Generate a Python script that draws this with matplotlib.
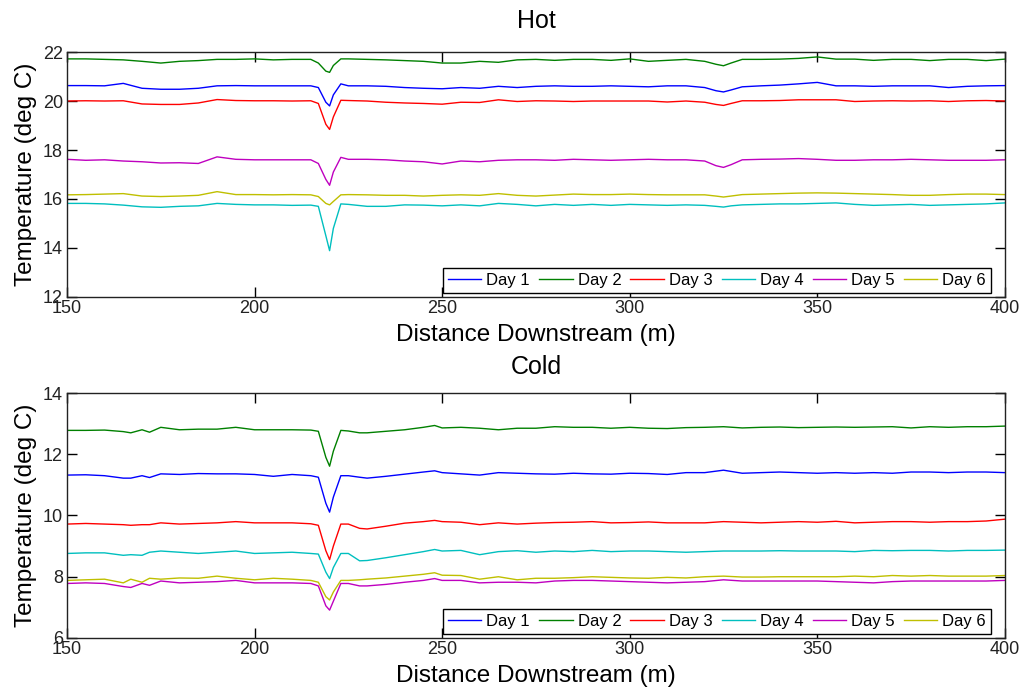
import matplotlib
matplotlib.use("Agg")
import matplotlib.pyplot as plt

plt.rcParams['font.family'] = ['Liberation Sans', 'DejaVu Sans']

days = ["Day 1", "Day 2", "Day 3", "Day 4", "Day 5", "Day 6"]
colors = [(0, 0, 1), (0, 0.5, 0), (1, 0, 0), (0, 0.75, 0.75), (0.75, 0, 0.75), (0.75, 0.75, 0)]

# ---------------- Hot ----------------
x_hot = [150, 155, 160, 165, 170, 175, 180, 185, 190, 195, 200, 205, 210, 215,
         217, 219, 220, 221, 223,
         225, 230, 235, 240, 245, 250, 255, 260, 265, 270, 275, 280, 285, 290, 295,
         300, 305, 310, 315, 320,
         323, 325, 327,
         330, 335, 340, 345, 350, 355, 360, 365, 370, 375, 380, 385, 390, 395, 400]

hot_day1 = [20.63, 20.63, 20.62, 20.72, 20.52, 20.48, 20.48, 20.52, 20.62, 20.63, 20.62, 20.62, 20.62, 20.62,
            20.55, 19.95, 19.80, 20.25, 20.70,
            20.62, 20.62, 20.60, 20.55, 20.52, 20.50, 20.55, 20.52, 20.60, 20.55, 20.60, 20.62, 20.60, 20.60, 20.62,
            20.60, 20.58, 20.62, 20.62, 20.55,
            20.42, 20.37, 20.45,
            20.58, 20.62, 20.65, 20.70, 20.76, 20.62, 20.62, 20.60, 20.62, 20.62, 20.62, 20.55, 20.60, 20.62, 20.63]
hot_day2 = [21.72, 21.72, 21.70, 21.68, 21.62, 21.55, 21.62, 21.65, 21.70, 21.70, 21.72, 21.68, 21.70, 21.70,
            21.55, 21.22, 21.17, 21.45, 21.72,
            21.72, 21.70, 21.68, 21.65, 21.62, 21.55, 21.55, 21.62, 21.58, 21.68, 21.70, 21.66, 21.70, 21.70, 21.66,
            21.72, 21.62, 21.66, 21.70, 21.62,
            21.50, 21.44, 21.55,
            21.70, 21.70, 21.71, 21.74, 21.80, 21.71, 21.71, 21.66, 21.70, 21.70, 21.65, 21.70, 21.70, 21.65, 21.71]
hot_day3 = [20.00, 20.01, 20.00, 20.01, 19.88, 19.86, 19.86, 19.92, 20.06, 20.02, 20.01, 20.01, 20.00, 20.01,
            19.90, 19.05, 18.84, 19.35, 20.03,
            20.02, 20.00, 19.95, 19.92, 19.90, 19.87, 19.95, 19.94, 20.05, 19.98, 20.01, 20.00, 19.98, 20.00, 20.00,
            20.00, 20.00, 19.96, 20.00, 19.95,
            19.86, 19.82, 19.90,
            20.01, 20.01, 20.02, 20.05, 20.05, 20.05, 19.98, 20.00, 20.01, 20.00, 20.01, 19.98, 20.01, 20.02, 20.00]
hot_day4 = [15.82, 15.82, 15.80, 15.75, 15.68, 15.66, 15.70, 15.72, 15.82, 15.78, 15.76, 15.76, 15.74, 15.75,
            15.70, 14.50, 13.89, 14.80, 15.80,
            15.78, 15.70, 15.70, 15.76, 15.75, 15.72, 15.76, 15.72, 15.82, 15.78, 15.72, 15.78, 15.74, 15.78, 15.74,
            15.78, 15.76, 15.74, 15.76, 15.74,
            15.70, 15.67, 15.72,
            15.76, 15.78, 15.80, 15.80, 15.82, 15.84, 15.78, 15.74, 15.76, 15.78, 15.74, 15.76, 15.78, 15.80, 15.84]
hot_day5 = [17.62, 17.58, 17.60, 17.55, 17.52, 17.47, 17.48, 17.45, 17.72, 17.62, 17.60, 17.60, 17.60, 17.60,
            17.45, 16.80, 16.56, 17.10, 17.70,
            17.62, 17.62, 17.60, 17.55, 17.52, 17.43, 17.55, 17.52, 17.58, 17.60, 17.60, 17.58, 17.62, 17.60, 17.58,
            17.60, 17.62, 17.60, 17.60, 17.55,
            17.36, 17.29, 17.40,
            17.60, 17.62, 17.63, 17.65, 17.62, 17.58, 17.58, 17.60, 17.60, 17.62, 17.60, 17.58, 17.58, 17.58, 17.60]
hot_day6 = [16.17, 16.18, 16.20, 16.22, 16.12, 16.10, 16.12, 16.15, 16.30, 16.18, 16.18, 16.17, 16.18, 16.17,
            16.10, 15.82, 15.76, 15.90, 16.17,
            16.18, 16.17, 16.15, 16.15, 16.12, 16.15, 16.17, 16.15, 16.22, 16.15, 16.12, 16.16, 16.20, 16.18, 16.18,
            16.20, 16.18, 16.17, 16.17, 16.17,
            16.12, 16.08, 16.12,
            16.18, 16.20, 16.22, 16.24, 16.25, 16.24, 16.22, 16.20, 16.18, 16.15, 16.15, 16.18, 16.20, 16.20, 16.18]

# ---------------- Cold ----------------
x_cold = [150, 155, 160, 165, 167, 170, 172, 175, 180, 185, 190, 195, 200, 205, 210, 215,
          217, 219, 220, 221, 223,
          225, 228, 230, 235, 240, 245, 248, 250, 255, 260, 265, 270, 275,
          280, 285, 290, 295, 300, 305, 310, 315, 320, 325, 330, 335, 340, 345, 350,
          355, 360, 365, 370, 375, 380, 385, 390, 395, 400]

cold_day1 = [11.32, 11.33, 11.30, 11.22, 11.22, 11.30, 11.24, 11.36, 11.34, 11.37, 11.36, 11.36, 11.34, 11.28, 11.34, 11.30,
             11.25, 10.40, 10.11, 10.60, 11.30,
             11.30, 11.25, 11.22, 11.28, 11.35, 11.42, 11.46, 11.40, 11.36, 11.32, 11.40, 11.38, 11.36,
             11.35, 11.38, 11.36, 11.35, 11.38, 11.37, 11.34, 11.40, 11.40, 11.48, 11.38, 11.40, 11.42, 11.40, 11.38,
             11.40, 11.38, 11.40, 11.38, 11.42, 11.42, 11.40, 11.42, 11.42, 11.40]
cold_day2 = [12.78, 12.78, 12.79, 12.74, 12.70, 12.80, 12.72, 12.88, 12.80, 12.82, 12.82, 12.88, 12.80, 12.80, 12.80, 12.79,
             12.75, 11.90, 11.61, 12.10, 12.78,
             12.76, 12.70, 12.70, 12.75, 12.80, 12.88, 12.94, 12.86, 12.88, 12.85, 12.80, 12.85, 12.85,
             12.90, 12.88, 12.88, 12.85, 12.88, 12.85, 12.84, 12.87, 12.88, 12.90, 12.86, 12.88, 12.89, 12.87, 12.88,
             12.89, 12.88, 12.89, 12.90, 12.86, 12.90, 12.88, 12.90, 12.90, 12.92]
cold_day3 = [9.72, 9.74, 9.72, 9.70, 9.68, 9.70, 9.70, 9.76, 9.72, 9.74, 9.76, 9.80, 9.76, 9.76, 9.76, 9.73,
             9.68, 8.85, 8.56, 9.00, 9.72,
             9.72, 9.58, 9.56, 9.65, 9.75, 9.80, 9.84, 9.80, 9.78, 9.70, 9.76, 9.72, 9.75,
             9.77, 9.78, 9.80, 9.76, 9.77, 9.79, 9.76, 9.76, 9.76, 9.80, 9.78, 9.76, 9.78, 9.80, 9.78,
             9.81, 9.76, 9.78, 9.80, 9.80, 9.78, 9.80, 9.80, 9.82, 9.88]
cold_day4 = [8.76, 8.78, 8.78, 8.70, 8.72, 8.70, 8.80, 8.84, 8.80, 8.76, 8.80, 8.84, 8.76, 8.78, 8.80, 8.76,
             8.74, 8.15, 7.94, 8.30, 8.76,
             8.76, 8.52, 8.53, 8.62, 8.72, 8.82, 8.89, 8.84, 8.86, 8.72, 8.82, 8.85, 8.80,
             8.84, 8.82, 8.86, 8.82, 8.84, 8.84, 8.82, 8.80, 8.82, 8.84, 8.84, 8.84, 8.85, 8.84, 8.84,
             8.84, 8.82, 8.86, 8.85, 8.86, 8.86, 8.84, 8.86, 8.86, 8.87]
cold_day5 = [7.78, 7.80, 7.78, 7.68, 7.65, 7.78, 7.72, 7.86, 7.80, 7.82, 7.84, 7.88, 7.80, 7.80, 7.80, 7.78,
             7.70, 7.05, 6.91, 7.20, 7.78,
             7.78, 7.70, 7.70, 7.75, 7.82, 7.88, 7.94, 7.88, 7.88, 7.80, 7.82, 7.82, 7.80,
             7.86, 7.88, 7.88, 7.86, 7.84, 7.82, 7.80, 7.82, 7.84, 7.90, 7.86, 7.86, 7.86, 7.86, 7.86,
             7.84, 7.82, 7.80, 7.84, 7.86, 7.86, 7.86, 7.86, 7.86, 7.88]
cold_day6 = [7.88, 7.90, 7.92, 7.80, 7.92, 7.82, 7.95, 7.92, 7.96, 7.95, 8.02, 7.95, 7.90, 7.95, 7.92, 7.88,
             7.82, 7.35, 7.24, 7.50, 7.88,
             7.88, 7.90, 7.92, 7.96, 8.02, 8.08, 8.13, 8.05, 8.04, 7.92, 8.00, 7.90, 7.95,
             7.95, 7.97, 8.00, 7.98, 7.96, 7.95, 7.98, 7.96, 8.00, 8.02, 7.99, 7.99, 8.00, 8.00, 8.00,
             8.00, 8.02, 8.00, 8.04, 8.02, 8.04, 8.02, 8.02, 8.02, 8.04]

x_ticks = [150, 200, 250, 300, 350, 400]
hot_yticks = [12, 14, 16, 18, 20, 22]
cold_yticks = [6, 8, 10, 12, 14]

fig = plt.figure(figsize=(10.34, 6.9), dpi=100)
ax1 = fig.add_axes([0.0648, 0.5696, 0.907, 0.355])
ax2 = fig.add_axes([0.0648, 0.0754, 0.907, 0.355])

panels = [
    (ax1, "Hot", 17, x_hot, [hot_day1, hot_day2, hot_day3, hot_day4, hot_day5, hot_day6], (12, 22), hot_yticks),
    (ax2, "Cold", 14, x_cold, [cold_day1, cold_day2, cold_day3, cold_day4, cold_day5, cold_day6], (6, 14), cold_yticks),
]

for ax, title, tpad, xs, series, ylim, yt in panels:
    for lab, col, ys in zip(days, colors, series):
        ax.plot(xs, ys, color=col, lw=1.0, label=lab)
    ax.set_xlim(150, 400)
    ax.set_ylim(*ylim)
    ax.set_xticks(x_ticks)
    ax.set_yticks(yt)
    ax.tick_params(direction='in', top=True, right=True, length=7, width=1,
                   labelsize=13, labelcolor='#222222', colors='black')
    ax.tick_params(axis='x', pad=2)
    ax.tick_params(axis='y', pad=3)
    for s in ax.spines.values():
        s.set_linewidth(1.0)
        s.set_color('#222222')
    ax.set_title(title, fontsize=18, pad=tpad)
    ax.set_xlabel("Distance Downstream (m)", fontsize=17.5, labelpad=5)
    ax.set_ylabel("Temperature (deg C)", fontsize=17.5, labelpad=4)
    leg = ax.legend(ncol=6, loc='lower right', bbox_to_anchor=(0.985, 0.018),
                    fontsize=12, handlelength=2.0, handletextpad=0.3,
                    columnspacing=0.55, borderpad=0.3, borderaxespad=0.0,
                    fancybox=False, framealpha=1)
    leg.get_frame().set_edgecolor('black')
    leg.get_frame().set_linewidth(1.0)

fig.savefig("out.png", dpi=100)
